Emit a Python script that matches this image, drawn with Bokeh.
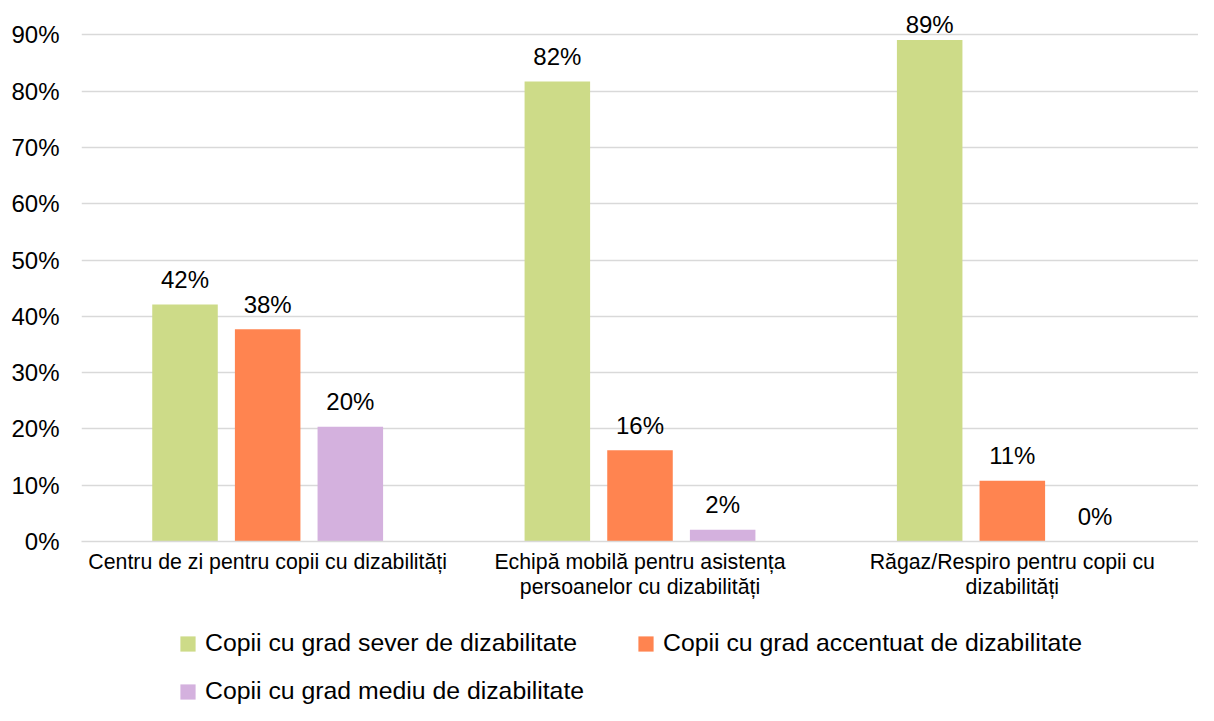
from bokeh.plotting import figure
from bokeh.layouts import column
from bokeh.models import ColumnDataSource, FactorRange, FixedTicker, NumeralTickFormatter, Legend, LegendItem
from bokeh.transform import dodge
from bokeh.embed import file_html
from bokeh.resources import INLINE
from bokeh.core.properties import value

categories = [
    "Centru de zi pentru copii cu dizabilități",
    "Echipă mobilă pentru asistența\npersoanelor cu dizabilități",
    "Răgaz/Respiro pentru copii cu\ndizabilități",
]
series_names = [
    "Copii cu grad sever de dizabilitate",
    "Copii cu grad accentuat de dizabilitate",
    "Copii cu grad mediu de dizabilitate",
]
sever = [0.421, 0.817, 0.891]
accentuat = [0.377, 0.162, 0.108]
mediu = [0.204, 0.021, 0.0]
y_ticks = [0.0, 0.1, 0.2, 0.3, 0.4, 0.5, 0.6, 0.7, 0.8, 0.9]

colors = ["#CDDB88", "#FF8450", "#D4B1DE"]
offsets = [-0.222, 0.0, 0.222]
FONT = "Liberation Sans"

Y_END = 0.945
FRAME_H = 532
PX_PER_UNIT = FRAME_H / Y_END
# data labels are kept inside the plot area (as the spreadsheet does)
LABEL_MAX_Y = Y_END - 40 / PX_PER_UNIT

p = figure(
    x_range=FactorRange(*categories, range_padding=0),
    y_range=(0, Y_END),
    frame_width=1117, frame_height=FRAME_H,
    min_border_left=81, min_border_right=0, min_border_top=9, min_border_bottom=70,
    output_backend="svg", toolbar_location=None,
)
p.outline_line_color = None
p.background_fill_color = "white"
p.border_fill_color = "white"

sources = []
for name, vals, col, off in zip(series_names, [sever, accentuat, mediu], colors, offsets):
    src = ColumnDataSource(dict(cat=categories, val=vals,
                                lab_y=[min(v, LABEL_MAX_Y) for v in vals],
                                lab=[f"{round(v * 100):.0f}%" for v in vals]))
    sources.append(src)
    p.vbar(x=dodge("cat", off, range=p.x_range), top="val", width=0.176,
           source=src, fill_color=col, line_color=None)
    p.text(x=dodge("cat", off, range=p.x_range), y="lab_y", text="lab", source=src,
           text_align="center", text_baseline="alphabetic", y_offset=-25,
           text_font=value(FONT), text_font_size="24px", text_color="#000000")

# axes
p.yaxis.ticker = FixedTicker(ticks=y_ticks)
p.yaxis.formatter = NumeralTickFormatter(format="0%")
p.yaxis.axis_line_color = None
p.yaxis.major_tick_line_color = None
p.yaxis.minor_tick_line_color = None
p.yaxis.major_label_standoff = 16
p.yaxis.major_label_text_font = FONT
p.yaxis.major_label_text_font_size = "24px"
p.yaxis.major_label_text_color = "#000000"

p.xaxis.axis_line_color = "#D9D9D9"
p.xaxis.axis_line_width = 1.5
p.xaxis.major_tick_line_color = None
p.xaxis.minor_tick_line_color = None
p.xaxis.major_label_standoff = 2
p.xaxis.major_label_text_font = FONT
p.xaxis.major_label_text_font_size = "21.3px"
p.xaxis.major_label_text_line_height = 1.08
p.xaxis.major_label_text_color = "#000000"

p.xgrid.grid_line_color = None
p.ygrid.ticker = FixedTicker(ticks=y_ticks)
p.ygrid.grid_line_color = "#D9D9D9"
p.ygrid.grid_line_width = 1.5

# legend panel below the chart (proxy bars sit outside its visible range)
p2 = figure(width=1198, height=94, x_range=p.x_range, y_range=(10, 11),
            x_axis_type=None, y_axis_type=None, min_border=0,
            output_backend="svg", toolbar_location=None)
p2.outline_line_color = None
p2.grid.visible = False
items = []
for name, col, off, src in zip(series_names, colors, offsets, sources):
    r = p2.vbar(x=dodge("cat", off, range=p2.x_range), top="val", width=0.176,
                source=src, fill_color=col, line_color=None)
    items.append(LegendItem(label=name, renderers=[r], index=0))

legend = Legend(items=items, location=(97, 0), orientation="horizontal", ncols=2,
                glyph_width=19, glyph_height=19, label_standoff=8, spacing=20,
                label_width=411, label_height=28,
                padding=0, margin=0, border_line_color=None, background_fill_alpha=0,
                label_text_font=FONT, label_text_font_size="24.8px", label_text_color="#000000")
p2.add_layout(legend, "center")

layout = column(p, p2, spacing=0)
open("out.html", "w").write(file_html(layout, INLINE))
